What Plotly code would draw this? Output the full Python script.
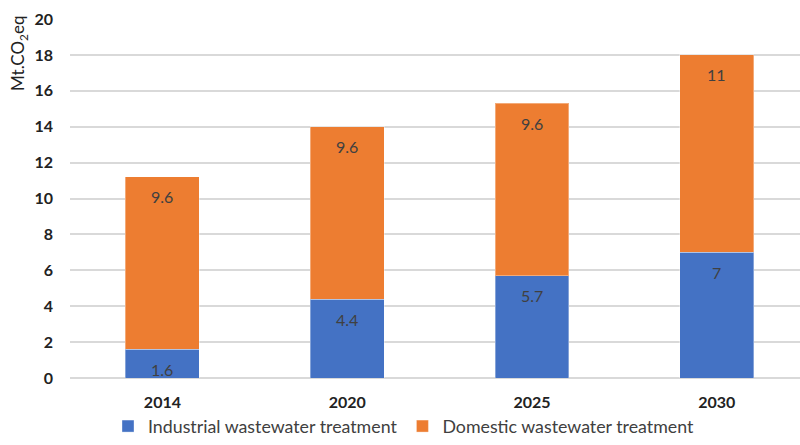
import plotly.graph_objects as go

years = ["2014", "2020", "2025", "2030"]
industrial = [1.6, 4.4, 5.7, 7]
domestic = [9.6, 9.6, 9.6, 11]
y_ticks = [0, 2, 4, 6, 8, 10, 12, 14, 16, 18, 20]

BLUE = "#4472C4"
ORANGE = "#ED7D31"
FONT = "Lato, Carlito, 'Liberation Sans', sans-serif"
TEXT = "#404040"

series = [
    ("Industrial wastewater treatment", industrial, BLUE),
    ("Domestic wastewater treatment", domestic, ORANGE),
]

fig = go.Figure()
for name, vals, color in series:
    fig.add_trace(go.Bar(
        x=years, y=vals, name=name,
        marker=dict(color=color, line=dict(color="rgba(255,255,255,0.35)", width=1)),
        width=0.4,
    ))

# value labels sit just inside the top of each stacked segment
base = [0] * len(years)
for name, vals, color in series:
    for i, v in enumerate(vals):
        top = base[i] + v
        fig.add_annotation(
            x=i, y=top, text=f"{v:g}", showarrow=False,
            xanchor="center", yanchor="middle", yshift=-20,
            font=dict(family=FONT, size=16, color=TEXT),
        )
        base[i] = top

fig.update_layout(
    barmode="stack",
    width=800, height=445,
    margin=dict(l=70, r=0, t=19, b=67, autoexpand=False),
    paper_bgcolor="white", plot_bgcolor="white",
    font=dict(family=FONT, color=TEXT),
    xaxis=dict(
        type="category", range=[-0.5, 3.45],
        showgrid=False, showline=False, ticks="",
        tickfont=dict(family=FONT, size=16, color="#222222", weight="bold"),
        ticklabelstandoff=13,
    ),
    yaxis=dict(
        range=[0, 20], tickvals=y_ticks,
        showgrid=True, gridcolor="#D9D9D9", gridwidth=1.5,
        zeroline=True, zerolinecolor="#D9D9D9", zerolinewidth=1.5,
        showline=False, ticks="",
        tickfont=dict(family=FONT, size=16, color="#222222", weight="bold"),
        ticklabelstandoff=16,
    ),
    legend=dict(
        orientation="h", xref="container", yref="container",
        x=0.505, xanchor="center", y=-0.025, yanchor="bottom",
        font=dict(family=FONT, size=17.8, color=TEXT),
        itemwidth=30, traceorder="normal",
        bgcolor="rgba(0,0,0,0)",
    ),
    showlegend=True,
)

fig.add_annotation(
    text="Mt.CO<sub>2</sub>eq", textangle=-90,
    xref="paper", yref="paper",
    x=(19 - 70) / 730, y=1 - (54 - 19) / 359.5,
    xanchor="center", yanchor="middle", showarrow=False,
    font=dict(family=FONT, size=17, color="#222222"),
)

fig.write_html("out.html")
